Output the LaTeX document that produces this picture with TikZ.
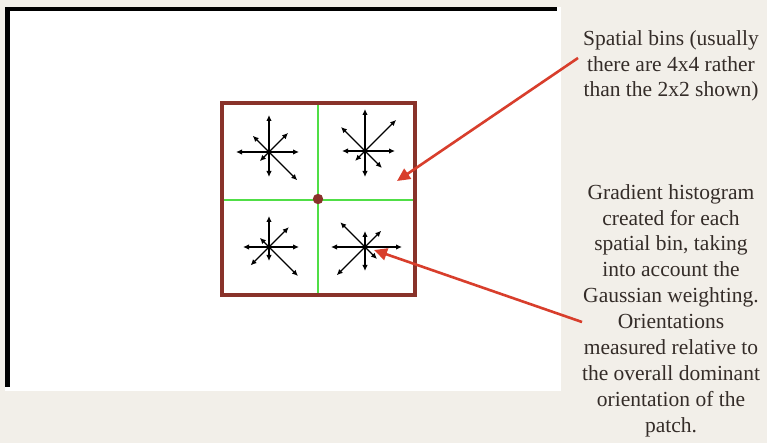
\documentclass[tikz,border=0pt]{standalone}
\usepackage{fontspec}
\setmainfont{Liberation Serif}
\usetikzlibrary{arrows.meta}
\definecolor{bgcol}{RGB}{242,239,233}
\definecolor{boxcol}{RGB}{137,50,42}
\definecolor{gridcol}{RGB}{80,222,70}
\definecolor{redcol}{RGB}{216,62,44}
\definecolor{txtcol}{RGB}{52,44,40}
\tikzset{
  garrow/.style={line width=1.4pt,-{Latex[length=6pt,width=5.5pt]}},
  callout/.style={redcol,line width=2.6pt,-{Triangle[length=13pt,width=12pt]}},
  label/.style={align=center,text=txtcol,font=\fontsize{21.5}{25.9}\selectfont,inner sep=0pt}
}
\begin{document}
\begin{tikzpicture}[x=1pt,y=-1pt]
\useasboundingbox (0,0) rectangle (767,443);
\fill[bgcol] (0,0) rectangle (767,443);
% white panel
\fill[white] (5,7) rectangle (561,391);
\fill[black] (5,7) rectangle (557,11.5);
\fill[black] (5,7) rectangle (9.5,387);
% grid
\draw[gridcol,line width=1.6pt] (318,103) -- (318,295);
\draw[gridcol,line width=1.6pt] (222,200) -- (415,200);
\draw[boxcol,line width=4.5pt] (222,103) rectangle (415,295);
\fill[boxcol] (318,199) circle (5.2);
% stars
\coordinate (s1) at (269,152);
\coordinate (s2) at (365,151);
\coordinate (s3) at (269,247);
\coordinate (s4) at (365,247);
\foreach \a/\l in {270/37,90/25,180/33,0/30,315/27,225/23,45/40,135/13}
  \draw[garrow] (s1) -- ++(\a:\l);
\foreach \a/\l in {270/42,90/26,180/23,0/30,315/44,225/34,45/24,135/14}
  \draw[garrow] (s2) -- ++(\a:\l);
\foreach \a/\l in {270/31,90/14,180/26,0/30,315/28,225/13,45/41,135/26}
  \draw[garrow] (s3) -- ++(\a:\l);
\foreach \a/\l in {270/16,90/24,180/34,0/37,315/23,225/35,45/17,135/40}
  \draw[garrow] (s4) -- ++(\a:\l);
\foreach \s in {s1,s2,s3,s4} \fill[black] (\s) circle (2);
% texts
\node[label,anchor=north] (t1) at (671,30) {Spatial bins (usually\\there are 4x4 rather\\than the 2x2 shown)};
\node[label,anchor=north] (t2) at (671,184) {Gradient histogram\\created for each\\spatial bin, taking\\into account the\\Gaussian weighting.\\Orientations\\measured relative to\\the overall dominant\\orientation of the\\patch.};
% callouts
\coordinate (c1s) at (578,58);
\coordinate (c1e) at (397,181);
\coordinate (c2s) at (582,322);
\coordinate (c2e) at (374,250);
\draw[callout] (c1s) -- (c1e);
\draw[callout] (c2s) -- (c2e);
\end{tikzpicture}
\end{document}
